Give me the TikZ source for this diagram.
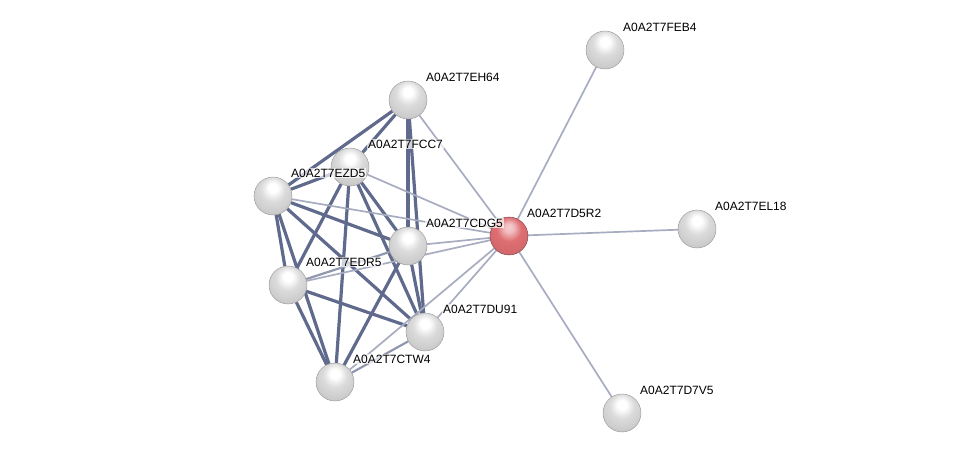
\documentclass[tikz,border=0pt]{standalone}
\usepackage{fontspec}
\setmainfont{Liberation Sans}
\usepackage{xcolor}
\usepackage{tikz}
\usetikzlibrary{shadings,backgrounds}

\definecolor{strongcol}{RGB}{96,106,140}
\definecolor{weakcol}{RGB}{168,172,192}
\definecolor{redbody}{RGB}{222,110,114}

\pgfdeclareradialshading{greysphere}{\pgfpoint{0bp}{12bp}}{%
  color(0bp)=(white); color(6bp)=(white); color(16bp)=(black!14);
  color(28bp)=(black!20); color(40bp)=(black!28); color(48bp)=(black!45);
  color(64bp)=(black!58)}
\pgfdeclareradialshading{redsphere}{\pgfpoint{0bp}{12bp}}{%
  color(0bp)=(redbody!35!white); color(6bp)=(redbody!45!white);
  color(16bp)=(redbody); color(28bp)=(redbody!95!black);
  color(40bp)=(redbody!85!black); color(48bp)=(redbody!70!black);
  color(64bp)=(redbody!55!black)}

\begin{document}
\begin{tikzpicture}[
  x=1pt, y=-1pt,
  prot/.style={circle, minimum size=38pt, inner sep=0pt, shading=greysphere,
               draw=black!42, line width=0.4pt},
  query/.style={prot, shading=redsphere, draw=redbody!55!black},
  lbl/.style={anchor=west, inner sep=1pt,
              font=\fontsize{12}{14}\selectfont,
              fill=white, fill opacity=0.7, text opacity=1},
  strong/.style={line width=3.2pt, strongcol},
  medium/.style={line width=2.2pt, strongcol!70!white},
  weak/.style={line width=1.7pt, weakcol},
]
\useasboundingbox (0,0) rectangle (975,459);

% nodes
\node[query] (d5r2) at (509,236) {};
\node[prot] (feb4) at (605,50) {};
\node[prot] (el18) at (697,229) {};
\node[prot] (d7v5) at (622,413) {};
\node[prot] (eh64) at (408,100) {};
\node[prot] (fcc7) at (350,167) {};
\node[prot] (ezd5) at (273,196) {};
\node[prot] (cdg5) at (408,246) {};
\node[prot] (edr5) at (288,285) {};
\node[prot] (du91) at (425,332) {};
\node[prot] (ctw4) at (335,382) {};

% edges
\begin{scope}[on background layer]
  \foreach \a/\b in {eh64/fcc7, eh64/ezd5, eh64/cdg5, eh64/du91,
                     fcc7/ezd5, fcc7/cdg5, fcc7/du91, fcc7/edr5, fcc7/ctw4,
                     ezd5/edr5, ezd5/ctw4, ezd5/cdg5, ezd5/du91,
                     edr5/du91, edr5/ctw4, cdg5/du91, cdg5/ctw4}
    \draw[strong] (\a) -- (\b);
  \foreach \a/\b in {edr5/cdg5, du91/ctw4}
    \draw[medium] (\a) -- (\b);
  \foreach \b in {eh64, fcc7, ezd5, cdg5, edr5, du91, ctw4, feb4, el18, d7v5}
    \draw[weak] (d5r2) -- (\b);
\end{scope}

% labels
\foreach \n/\t in {d5r2/A0A2T7D5R2, feb4/A0A2T7FEB4, el18/A0A2T7EL18,
                   d7v5/A0A2T7D7V5, eh64/A0A2T7EH64, fcc7/A0A2T7FCC7,
                   ezd5/A0A2T7EZD5, cdg5/A0A2T7CDG5, edr5/A0A2T7EDR5,
                   du91/A0A2T7DU91, ctw4/A0A2T7CTW4}
  \node[lbl] (\n-lbl) at ([xshift=17pt, yshift=23pt]\n.center) {\t};

\end{tikzpicture}
\end{document}
